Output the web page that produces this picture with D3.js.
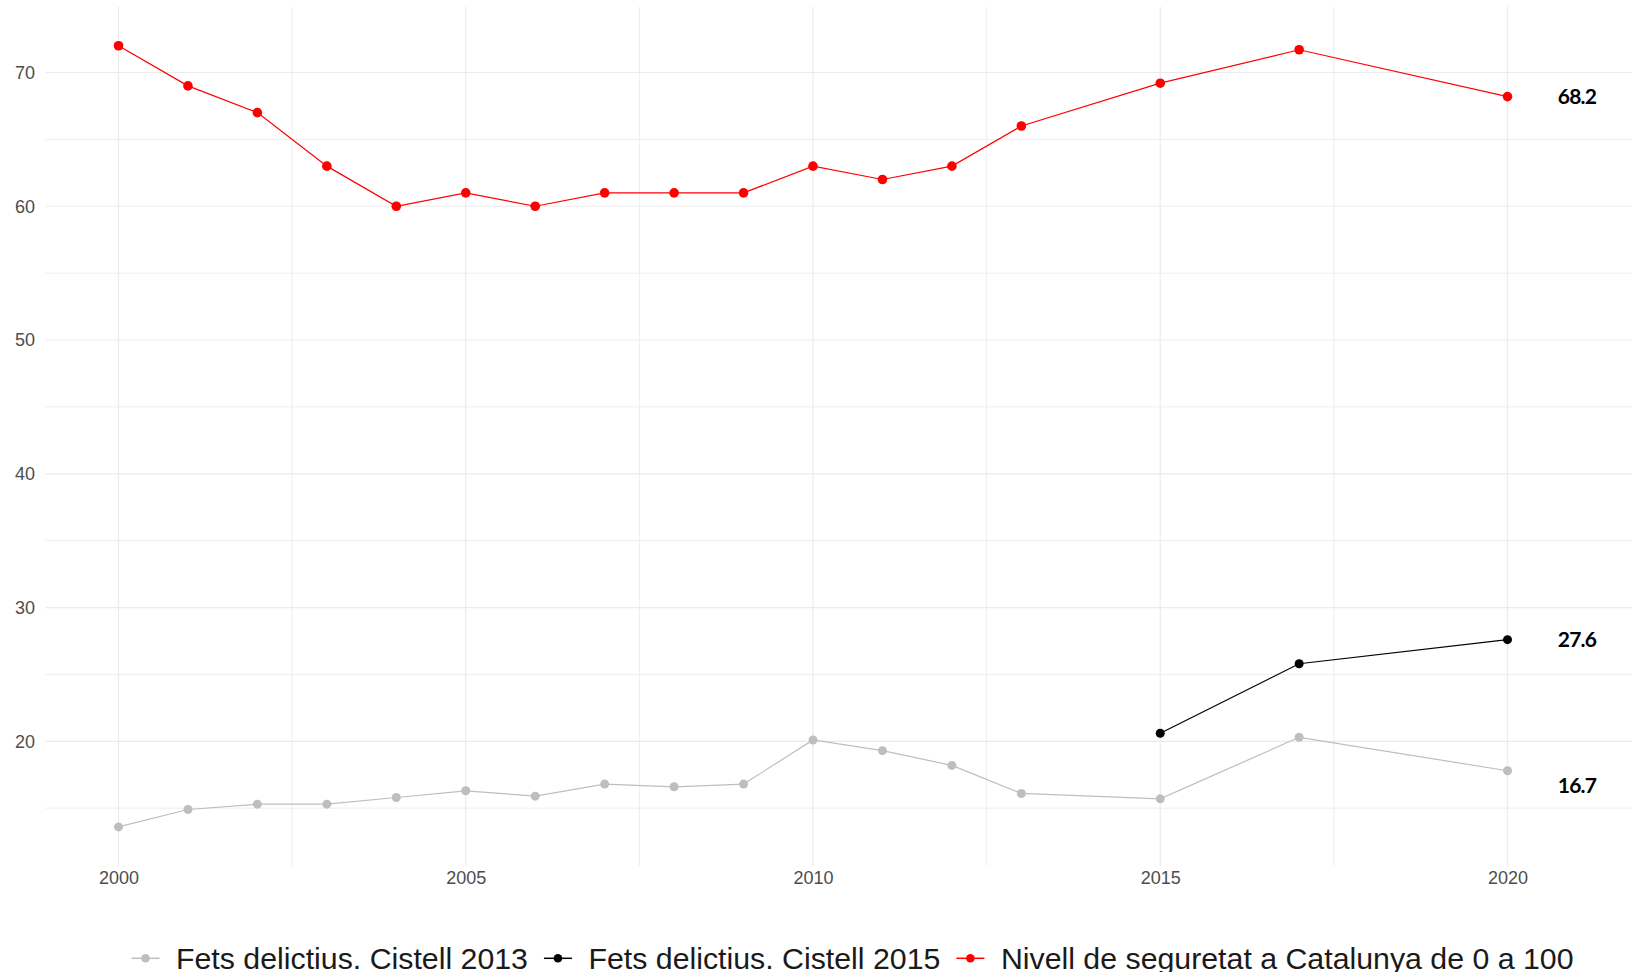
<!DOCTYPE html>
<html>
<head>
<meta charset="utf-8">
<script src="https://cdn.jsdelivr.net/npm/d3@7"></script>
<style>
  html, body { margin: 0; padding: 0; background: #ffffff; }
  svg { display: block; }
</style>
</head>
<body>
<svg id="chart" width="1632" height="972"></svg>
<script>
// ---------- data ----------
const yearsMain = [2000, 2001, 2002, 2003, 2004, 2005, 2006, 2007, 2008, 2009, 2010, 2011, 2012, 2013, 2015, 2017, 2020];
const seguretat = [72, 69, 67, 63, 60, 61, 60, 61, 61, 61, 63, 62, 63, 66, 69.2, 71.7, 68.2];
const cistell2013 = [13.6, 14.9, 15.3, 15.3, 15.8, 16.3, 15.9, 16.8, 16.6, 16.8, 20.1, 19.3, 18.2, 16.1, 15.7, 20.3, 17.8];
const years2015 = [2015, 2017, 2020];
const cistell2015 = [20.6, 25.8, 27.6];
const endLabels = ["68.2", "27.6", "16.7"];
const endLabelValues = [68.2, 27.6, 16.7];
const seriesNames = ["Fets delictius. Cistell 2013", "Fets delictius. Cistell 2015", "Nivell de seguretat a Catalunya de 0 a 100"];
const seriesColors = ["#bebebe", "#000000", "#ff0000"];
const xTicks = [2000, 2005, 2010, 2015, 2020];
const xMinor = [2002.5, 2007.5, 2012.5, 2017.5];
const yTicks = [20, 30, 40, 50, 60, 70];
const yMinor = [15, 25, 35, 45, 55, 65];

// ---------- layout ----------
const W = 1632, H = 972;
const svg = d3.select("#chart");

const x = d3.scaleLinear().domain([2000, 2020]).range([118.5, 1507.5]);
const y = d3.scaleLinear().domain([20, 70]).range([741.3, 72.5]);

const allY = seguretat.concat(cistell2013, cistell2015);
const yMin = d3.min(allY), yMax = d3.max(allY);
const yPad = (yMax - yMin) * 0.05;
const panelTop = y(yMax + yPad);
const panelBottom = y(yMin - yPad);
const panelLeft = x(2000 - 1.05);
const panelRight = W;

// ---------- grid ----------
const grid = svg.append("g");
grid.selectAll("line.ymin").data(yMinor).join("line")
  .attr("x1", panelLeft).attr("x2", panelRight)
  .attr("y1", d => y(d)).attr("y2", d => y(d))
  .attr("stroke", "#ebebeb").attr("stroke-width", 0.9);
grid.selectAll("line.xmin").data(xMinor).join("line")
  .attr("y1", panelTop).attr("y2", panelBottom)
  .attr("x1", d => x(d)).attr("x2", d => x(d))
  .attr("stroke", "#ebebeb").attr("stroke-width", 0.9);
grid.selectAll("line.ymaj").data(yTicks).join("line")
  .attr("x1", panelLeft).attr("x2", panelRight)
  .attr("y1", d => y(d)).attr("y2", d => y(d))
  .attr("stroke", "#ebebeb").attr("stroke-width", 1.2);
grid.selectAll("line.xmaj").data(xTicks).join("line")
  .attr("y1", panelTop).attr("y2", panelBottom)
  .attr("x1", d => x(d)).attr("x2", d => x(d))
  .attr("stroke", "#ebebeb").attr("stroke-width", 1.2);

// ---------- axes (labels only) ----------
const yAxis = d3.axisLeft(y).tickValues(yTicks).tickSize(0).tickPadding(0);
const gy = svg.append("g").attr("transform", "translate(35,0)").call(yAxis);
gy.select(".domain").remove();
gy.selectAll("text").attr("font-family", "'Liberation Sans', Arial, sans-serif")
  .attr("font-size", "18px").attr("fill", "#4d4d4d");

const xAxis = d3.axisBottom(x).tickValues(xTicks).tickFormat(d3.format("d")).tickSize(0).tickPadding(0);
const gx = svg.append("g").attr("transform", "translate(0,871.5)").call(xAxis);
gx.select(".domain").remove();
gx.selectAll("text").attr("font-family", "'Liberation Sans', Arial, sans-serif")
  .attr("font-size", "18px").attr("fill", "#4d4d4d");

// ---------- series ----------
const line = d3.line().x(d => x(d[0])).y(d => y(d[1]));
const series = [
  { pts: yearsMain.map((yr, i) => [yr, cistell2013[i]]), color: seriesColors[0], r: 4.5 },
  { pts: years2015.map((yr, i) => [yr, cistell2015[i]]), color: seriesColors[1], r: 4.5 },
  { pts: yearsMain.map((yr, i) => [yr, seguretat[i]]), color: seriesColors[2], r: 4.8 }
];
series.forEach(s => {
  svg.append("path").datum(s.pts).attr("d", line)
    .attr("fill", "none").attr("stroke", s.color).attr("stroke-width", 1.2);
  svg.append("g").selectAll("circle").data(s.pts).join("circle")
    .attr("cx", d => x(d[0])).attr("cy", d => y(d[1])).attr("r", s.r)
    .attr("fill", s.color);
});

// ---------- end labels ----------
svg.append("g").selectAll("text").data(endLabels).join("text")
  .attr("x", x(2021)).attr("y", (d, i) => y(endLabelValues[i]))
  .attr("text-anchor", "middle").attr("dy", "0.36em")
  .attr("font-family", "Lato, 'Noto Sans', sans-serif").attr("font-weight", 700)
  .attr("font-size", "21px").attr("letter-spacing", "-0.8px")
  .attr("fill", "#000").text(d => d);

// ---------- legend ----------
const leg = svg.append("g");
let cx = 131.5;
const legY = 958.3;
seriesNames.forEach((name, i) => {
  const g = leg.append("g");
  g.append("line").attr("x1", cx).attr("x2", cx + 28).attr("y1", legY).attr("y2", legY)
    .attr("stroke", seriesColors[i]).attr("stroke-width", 1.5);
  g.append("circle").attr("cx", cx + 14).attr("cy", legY).attr("r", 4.3).attr("fill", seriesColors[i]);
  const t = g.append("text").attr("x", cx + 44.5).attr("y", 969)
    .attr("font-family", "'Liberation Sans', Arial, sans-serif")
    .attr("font-size", "30.3px").attr("fill", "#1a1a1a").text(name);
  const len = t.node().getComputedTextLength();
  cx = cx + 44.5 + len + 16;
});
</script>
</body>
</html>
